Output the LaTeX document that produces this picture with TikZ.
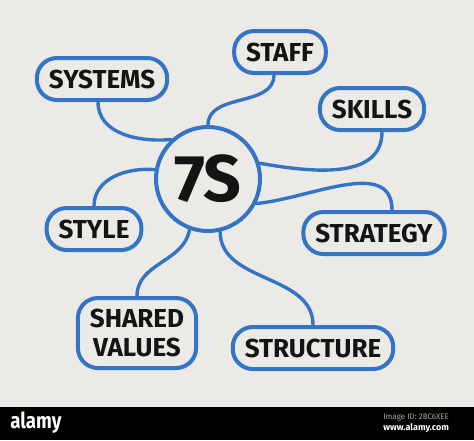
\documentclass[tikz,border=0pt]{standalone}
\usepackage{fontspec}
\setmainfont{Fira Sans}
\usetikzlibrary{positioning}
\definecolor{marker}{RGB}{52,116,196}
\definecolor{paper}{RGB}{236,234,230}
\definecolor{ink}{RGB}{20,20,20}
\tikzset{
  topic/.style={draw=marker, line width=2pt, rounded corners=10pt, inner xsep=6pt,
    minimum height=21pt, text=ink, font=\fontsize{13}{14.5}\selectfont\bfseries, align=center},
  link/.style={draw=marker, line width=1.7pt, line cap=round},
}

\begin{document}
\begin{tikzpicture}[x=0.5pt,y=0.5pt]
        % paper and bottom bar
        \fill[paper] (0,0) rectangle (474,-407);
        \fill[black] (0,-407) rectangle (474,-440);
        \useasboundingbox (0,0) rectangle (474,-440);

        % centre
        \node[draw=marker, line width=2pt, circle, minimum size=52pt, text=ink,
              font=\fontsize{33}{33}\selectfont\bfseries] (hub) at (208,-179) {7S};

        % the seven topics
        \node[topic] (systems) at (102,-79) {SYSTEMS};
        \node[topic] (staff) at (280,-52) {STAFF};
        \node[topic] (skills) at (372,-109) {SKILLS};
        \node[topic] (style) at (94,-229) {STYLE};
        \node[topic] (strategy) at (374,-233) {STRATEGY};
        \node[topic, minimum height=35pt, inner xsep=6pt] (shared) at (137,-333) {SHARED\\VALUES};
        \node[topic] (structure) at (313,-348) {STRUCTURE};

        % links
        \draw[link] ([xshift=-2pt]systems.south) to[out=-90,in=185] (hub.133);
        \draw[link] ([xshift=-3pt]staff.south) to[out=-90,in=90] (hub.90);
        \draw[link] ([xshift=5pt]skills.south) to[out=-90,in=-10] (hub.17);
        \draw[link] (hub.-27) to[out=5,in=90] ([xshift=9pt]strategy.north);
        \draw[link] (style.north) to[out=90,in=175] (hub.170);
        \draw[link] (shared.north) to[out=90,in=-100] (hub.-110);
        \draw[link] (hub.-77) to[out=-90,in=90] (structure.north);

        % bar text
        \node[white, font=\fontsize{11}{11}\selectfont\bfseries, xscale=0.85] (logo) at (36,-423) {alamy};
        \node[gray!70, font=\fontsize{4}{4}\selectfont, anchor=east] (imgid) at (456,-418) {Image ID: 2BC6XEE};
        \node[white, font=\fontsize{4.5}{4.5}\selectfont\bfseries, anchor=east] (site) at (456,-428) {www.alamy.com};
\end{tikzpicture}
\end{document}
